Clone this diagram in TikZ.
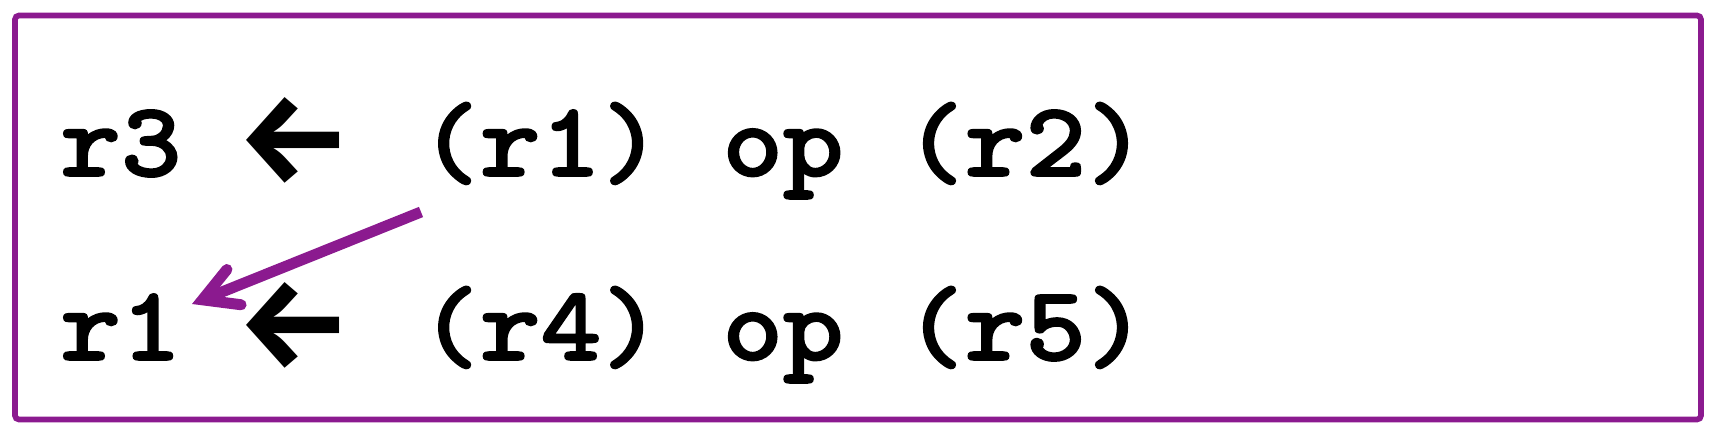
\documentclass[tikz,border=0pt]{standalone}
\usepackage{graphicx}
\usepackage{fontspec}
\newfontfamily\arrowfont{Fira Sans}
\newfontfamily\codefont{lmmonolt10-bold.otf}[FakeBold=1.5]
\usetikzlibrary{arrows.meta}
\definecolor{framecol}{RGB}{139,26,143}
\newcommand{\codetext}[1]{\scalebox{1.085}[1]{#1}}
\begin{document}
\begin{tikzpicture}[x=0.5pt,y=-0.5pt,
  code/.style={inner sep=0pt, anchor=base west, font=\fontsize{53.2pt}{60pt}\selectfont\codefont},
  larrow/.style={inner sep=0pt, anchor=base west, font=\fontsize{64pt}{70pt}\selectfont\arrowfont\bfseries},
  link/.style={framecol, line width=5.5pt, -{Straight Barb[length=17pt,width=19pt,line cap=round,line join=miter]}}]
\useasboundingbox (0,0) rectangle (1718,438);
\draw[framecol, line width=2.85pt, rounded corners=2pt] (15,15.5) rectangle (1701,419.5);
\node[code] (r3) at (60,176) {\codetext{r3}};
\node[larrow] (a1) at (236,183) {←};
\node[code] (e1) at (419,176) {\codetext{(r1) op (r2)}};
\node[code] (r1) at (60,360) {\codetext{r1}};
\node[larrow] (a2) at (236,367) {←};
\node[code] (e2) at (419,360) {\codetext{(r4) op (r5)}};
\coordinate (p1) at (421,212);
\coordinate (p2) at (192,304);
\draw[link] (p1) -- (p2);
\end{tikzpicture}
\end{document}
